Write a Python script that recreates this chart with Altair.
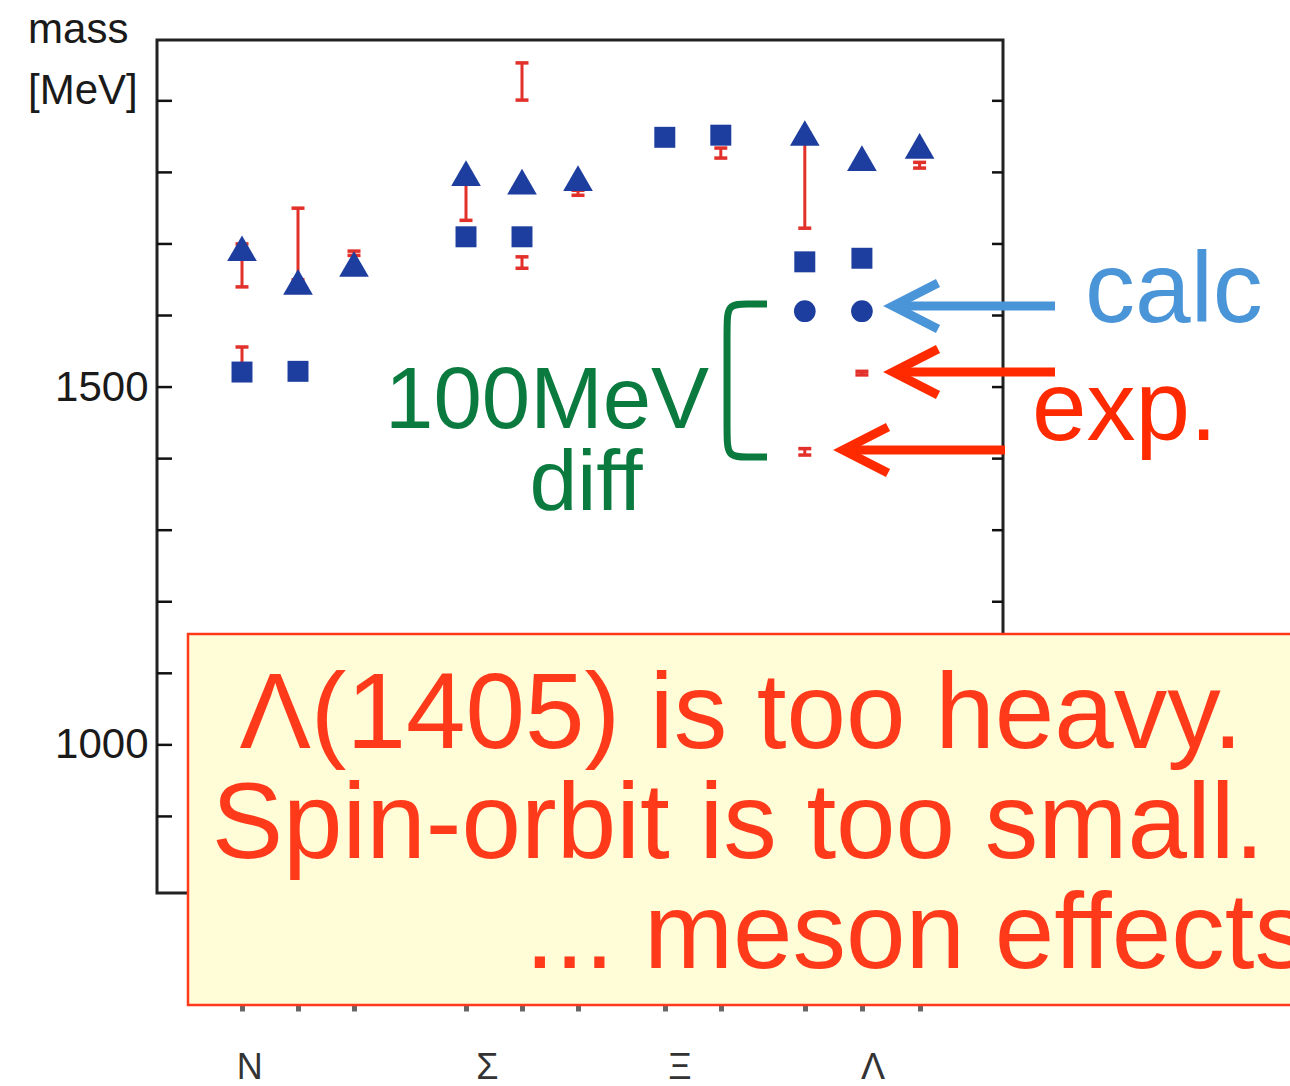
import altair as alt
import pandas as pd

# ---------------- data ----------------
# x slot of each of the 11 columns (N: 3, Sigma: 3, Xi: 2, Lambda: 3)
col_slot = [1, 2, 3, 5, 6, 7, 8.55, 9.55, 11.05, 12.07, 13.1]

# calculated masses (MeV)
tri_cols = [0, 1, 2, 3, 4, 5, 8, 9, 10]
tri_mass = [1694, 1647, 1672, 1799, 1787, 1792, 1855, 1820, 1837]
sq_cols = [0, 1, 3, 4, 6, 7, 8, 9]
sq_mass = [1521, 1522, 1710, 1710, 1849, 1852, 1675, 1680]
circ_cols = [8, 9]
circ_mass = [1606, 1606]

# experimental ranges (MeV)
exp_cols = [0, 0, 1, 1, 2, 3, 4, 4, 5, 7, 8, 8, 9, 10]
exp_low = [1640, 1525, 1650, 1515, 1684, 1733, 1901, 1666, 1768, 1820, 1722, 1405, 1517, 1806]
exp_high = [1700, 1556, 1750, 1525, 1690, 1799, 1953, 1682, 1775, 1834, 1855, 1414, 1522, 1814]

group_names = ["N", "Σ", "Ξ", "Λ"]
group_slot = [1.14, 5.38, 8.82, 12.27]

y_tick_values = [900, 1000, 1100, 1200, 1300, 1400, 1500, 1600, 1700, 1800, 1900]
y_label_values = [1000, 1500]

box_lines = ["Λ(1405) is too heavy.", "Spin-orbit is too small."]
box_last_line = "... meson effects"

# ---------------- scales & axes ----------------
XD = [-0.517857, 14.589286]
YD = [793, 1985]
xs = alt.Scale(domain=XD, nice=False, zero=False)
ys = alt.Scale(domain=YD, nice=False, zero=False)
FONT = "Liberation Sans"

x_axis = alt.Axis(values=col_slot, labels=False, ticks=True, tickSize=6, tickWidth=5,
                  tickColor="#666666", domain=False, grid=False, offset=112, title=None)
y_axis = alt.Axis(values=y_label_values, format="d", ticks=False, domain=False, grid=False,
                  labelFontSize=42, labelFont=FONT, labelColor="#1a1a1a", labelPadding=9,
                  title=None)


def X(f="x"):
    return alt.X(f, type="quantitative", scale=xs, axis=x_axis)


def Y(f="y"):
    return alt.Y(f, type="quantitative", scale=ys, axis=y_axis)


tri = pd.DataFrame({"x": [col_slot[i] for i in tri_cols], "y": tri_mass})
sq = pd.DataFrame({"x": [col_slot[i] for i in sq_cols], "y": sq_mass})
circ = pd.DataFrame({"x": [col_slot[i] for i in circ_cols], "y": circ_mass})
exp = pd.DataFrame({"x": [col_slot[i] for i in exp_cols], "lo": exp_low, "hi": exp_high})

BLUE = "#1d3e9e"
RED = "#e2302a"

# inward ticks
yt = pd.DataFrame({"y": y_tick_values})
ticks_left = alt.Chart(yt).mark_rule(color="#111111", strokeWidth=2.5).encode(
    y=Y(), x=alt.value(0), x2=alt.value(15))
ticks_right = alt.Chart(yt).mark_rule(color="#111111", strokeWidth=2.5).encode(
    y=Y(), x=alt.value(835), x2=alt.value(846))

# experimental error bars
exp_rule = alt.Chart(exp).mark_rule(color=RED, strokeWidth=3).encode(
    x=X("x"), y=Y("lo"), y2="hi")
exp_cap_lo = alt.Chart(exp).mark_tick(color=RED, orient="horizontal", size=13, thickness=3.5,
                                      opacity=1).encode(x=X("x"), y=Y("lo"))
exp_cap_hi = alt.Chart(exp).mark_tick(color=RED, orient="horizontal", size=13, thickness=3.5,
                                      opacity=1).encode(x=X("x"), y=Y("hi"))

# calculated points
tri_l = alt.Chart(tri).mark_point(shape="triangle-up", filled=True, size=880, color=BLUE,
                                  opacity=1).encode(x=X(), y=Y())
sq_l = alt.Chart(sq).mark_point(shape="square", filled=True, size=440, color=BLUE,
                                opacity=1).encode(x=X(), y=Y())
circ_l = alt.Chart(circ).mark_point(shape="circle", filled=True, size=470, color=BLUE,
                                    opacity=1).encode(x=X(), y=Y())

# axis title (mass [MeV])
ytitle = pd.DataFrame({"x": [-2.82, -2.82], "y": [1980.8, 1895.6], "t": ["mass", "[MeV]"]})
ytitle_l = alt.Chart(ytitle).mark_text(align="left", baseline="alphabetic", fontSize=42,
                                       font=FONT, color="#1a1a1a").encode(
    x=X(), y=Y(), text="t:N")

# group labels
gl = pd.DataFrame({"x": group_slot, "y": [533] * 4, "t": group_names})
gl_l = alt.Chart(gl).mark_text(align="center", baseline="alphabetic", fontSize=36,
                               font=FONT, color="#333333").encode(x=X(), y=Y(), text="t:N")

# annotations
GREEN = "#0a7a3e"
CALC_BLUE = "#4a94d8"
EXP_RED = "#ff2a00"

t100 = alt.Chart(pd.DataFrame({"x": [3.554], "y": [1442.8], "t": ["100MeV"]})).mark_text(
    align="left", baseline="alphabetic", fontSize=87, font=FONT, color=GREEN).encode(
    x=X(), y=Y(), text="t:N")
tdiff = alt.Chart(pd.DataFrame({"x": [7.143], "y": [1328.2], "t": ["diff"]})).mark_text(
    align="center", baseline="alphabetic", fontSize=86, font=FONT, color=GREEN).encode(
    x=X(), y=Y(), text="t:N")
tcalc = alt.Chart(pd.DataFrame({"x": [16.054], "y": [1590.9], "t": ["calc"]})).mark_text(
    align="left", baseline="alphabetic", fontSize=100, font=FONT, color=CALC_BLUE).encode(
    x=X(), y=Y(), text="t:N")
texp = alt.Chart(pd.DataFrame({"x": [15.107], "y": [1426.0], "t": ["exp."]})).mark_text(
    align="left", baseline="alphabetic", fontSize=98, font=FONT, color=EXP_RED).encode(
    x=X(), y=Y(), text="t:N")

# bracket
br = pd.DataFrame({
    "x": [10.375, 10.018, 9.661, 9.661, 9.661, 9.661, 10.018, 10.375],
    "y": [1616.1, 1616.1, 1616.1, 1582.5, 1435.8, 1402.3, 1402.3, 1402.3],
    "o": list(range(8))})
br_l = alt.Chart(br).mark_line(color=GREEN, strokeWidth=7, interpolate="basis",
                               strokeCap="butt").encode(x=X(), y=Y(), order="o:Q")

# arrows
arrow_rows = []


def add_arrow(aid, tip, end, arm1, arm2):
    arrow_rows.extend([
        {"id": aid + "s", "o": 0, "x": tip[0] + 0.06, "y": tip[1]},
        {"id": aid + "s", "o": 1, "x": end[0], "y": end[1]},
        {"id": aid + "h", "o": 0, "x": arm1[0], "y": arm1[1]},
        {"id": aid + "h", "o": 1, "x": tip[0], "y": tip[1]},
        {"id": aid + "h", "o": 2, "x": arm2[0], "y": arm2[1]},
    ])


add_arrow("b", (12.625, 1613.3), (15.518, 1613.3), (13.429, 1645.4), (13.429, 1581.1))
blue_df = pd.DataFrame(arrow_rows)
arrow_rows = []
add_arrow("r1", (12.625, 1521.1), (15.518, 1521.1), (13.429, 1553.2), (13.429, 1488.9))
add_arrow("r2", (11.732, 1412.1), (14.625, 1412.1), (12.536, 1444.2), (12.536, 1379.9))
red_df = pd.DataFrame(arrow_rows)

blue_arrow = alt.Chart(blue_df).mark_line(color=CALC_BLUE, strokeWidth=9, strokeCap="butt",
                                          strokeJoin="miter").encode(
    x=X(), y=Y(), detail="id:N", order="o:Q")
red_arrow = alt.Chart(red_df).mark_line(color=EXP_RED, strokeWidth=9, strokeCap="butt",
                                        strokeJoin="miter").encode(
    x=X(), y=Y(), detail="id:N", order="o:Q")

# box
box = alt.Chart(pd.DataFrame({"x": [0.0357], "x2": [19.9], "y": [1154.9], "y2": [636.5]})).mark_rect(
    fill="#fffcd8", stroke="#ff3a1a", strokeWidth=2.5).encode(
    x=X("x"), x2="x2", y=Y("y"), y2="y2")
box_c = alt.Chart(pd.DataFrame({"x": [9.911, 9.857], "y": [995.6, 841.9], "t": box_lines})).mark_text(
    align="center", baseline="alphabetic", fontSize=107, font=FONT, color="#ff3a1a").encode(
    x=X(), y=Y(), text="t:N")
box_l = alt.Chart(pd.DataFrame({"x": [6.054], "y": [688.2], "t": [box_last_line]})).mark_text(
    align="left", baseline="alphabetic", fontSize=107, font=FONT, color="#ff3a1a").encode(
    x=X(), y=Y(), text="t:N")

chart = alt.layer(
    exp_rule, ticks_left, ticks_right, exp_cap_lo, exp_cap_hi, tri_l, sq_l, circ_l,
    ytitle_l, gl_l, t100, tdiff, tcalc, texp, br_l, blue_arrow, red_arrow,
    box, box_c, box_l
).properties(
    width=846, height=853,
    autosize=alt.AutoSizeParams(type="none"),
    padding={"left": 157, "top": 40, "right": 287, "bottom": 193},
    background="white",
).configure_view(stroke="#222222", strokeWidth=3)

chart.save("out.html", embed_options={"renderer": "svg", "actions": False})
